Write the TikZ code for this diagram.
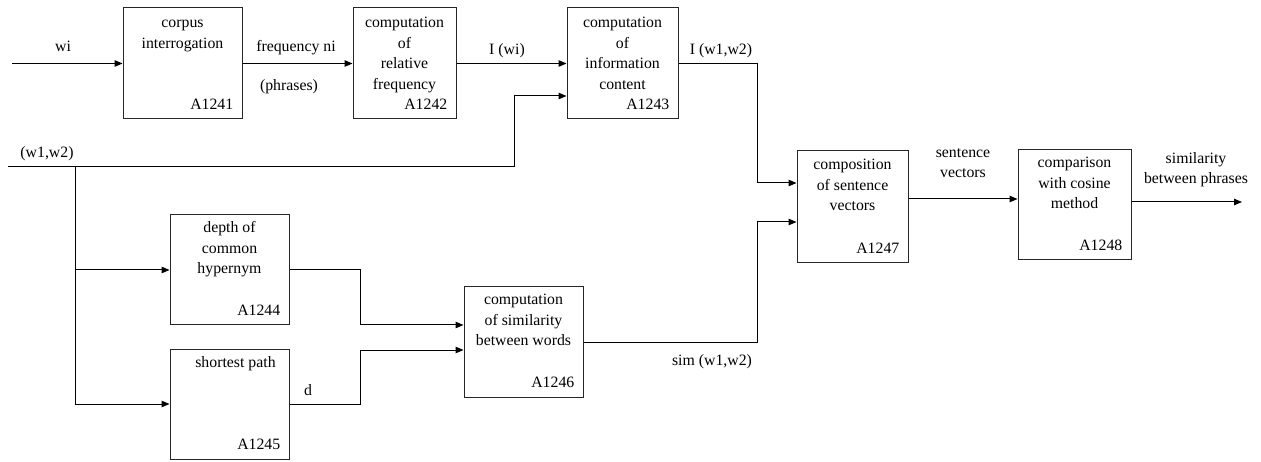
\documentclass[tikz,border=0pt]{standalone}
\usepackage{fontspec}
\setmainfont{Liberation Serif}
\usetikzlibrary{arrows.meta,calc}
\begin{document}
\begin{tikzpicture}[x=1pt,y=-1pt,
  box/.style={draw=black!85, line width=1pt, inner sep=0pt},
  conn/.style={line width=1pt, -{Triangle[length=8pt,width=6.5pt]}},
  txt/.style={font=\fontsize{15.8}{20.5}\selectfont, inner sep=0pt, align=center, anchor=north},
  lbl/.style={font=\fontsize{15.8}{20.5}\selectfont, inner sep=0pt, anchor=base east},
  tag/.style={font=\fontsize{15.8}{20.5}\selectfont, inner sep=0pt, anchor=base}]
\path[use as bounding box, fill=white] (0,0) rectangle (1261,462);

% boxes
\node[box, minimum width=119pt, minimum height=111pt] (a1) at (182.5,63.5) {};
\node[box, minimum width=103pt, minimum height=111pt] (a2) at (404.5,63.5) {};
\node[box, minimum width=111pt, minimum height=111pt] (a3) at (622.5,63.5) {};
\node[box, minimum width=119pt, minimum height=110pt] (a4) at (229.5,270) {};
\node[box, minimum width=119pt, minimum height=110pt] (a5) at (229.5,404) {};
\node[box, minimum width=119pt, minimum height=110pt] (a6) at (523.5,342) {};
\node[box, minimum width=111pt, minimum height=112pt] (a7) at (852.5,207) {};
\node[box, minimum width=113pt, minimum height=110pt] (a8) at (1074.5,205) {};

% box texts
\node[txt] (a1t) at ($(a1.north)+(0,5.6)$) {\strut corpus\\interrogation};
\node[txt] (a2t) at ($(a2.north)+(0,5.6)$) {\strut computation\\of\\relative\\frequency};
\node[txt] (a3t) at ($(a3.north)+(0,5.6)$) {\strut computation\\of\\information\\content};
\node[txt] (a4t) at ($(a4.north)+(0,3.6)$) {\strut depth of\\common\\hypernym};
\node[txt] (a5t) at ($(a5.north)+(6,4.6)$) {\strut shortest path};
\node[txt] (a6t) at ($(a6.north)+(0,3.6)$) {\strut computation\\of similarity\\between words};
\node[txt] (a7t) at ($(a7.north)+(0,4.6)$) {\strut composition\\of sentence\\vectors};
\node[txt] (a8t) at ($(a8.north)+(0,3.6)$) {\strut comparison\\with cosine\\method};

% box tags
\node[lbl] (a1l) at ($(a1.south east)+(-9,-10)$) {A1241};
\node[lbl] (a2l) at ($(a2.south east)+(-9,-10)$) {A1242};
\node[lbl] (a3l) at ($(a3.south east)+(-9,-10)$) {A1243};
\node[lbl] (a4l) at ($(a4.south east)+(-9,-10)$) {A1244};
\node[lbl] (a5l) at ($(a5.south east)+(-9,-10)$) {A1245};
\node[lbl] (a6l) at ($(a6.south east)+(-9,-10)$) {A1246};
\node[lbl] (a7l) at ($(a7.south east)+(-9,-10)$) {A1247};
\node[lbl] (a8l) at ($(a8.south east)+(-9,-10)$) {A1248};

% helper coordinates
\coordinate (win) at (12,64);
\coordinate (win2) at (8,167);
\coordinate (j1) at (514,167);
\coordinate (br) at (75,167);
\coordinate (bus) at (757,0);
\coordinate (mid) at (360,0);
\coordinate (p78) at ($(a7.east)+(0,-8)$);
\coordinate (out) at (1242,202);

% connectors
\draw[conn] (win |- a1.west) -- (a1.west);
\draw[conn] (a1.east) -- (a2.west);
\draw[conn] (a2.east) -- (a3.west);
\draw[conn] (win2) -- (j1) |- ($(a3.west)+(0,32.5)$);
\draw[conn] (br) |- (a5.west);
\draw[conn] (br |- a4.west) -- (a4.west);
\draw[conn] (a3.east) -- (a3.east -| bus) |- ($(a7.west)+(0,-24)$);
\draw[conn] (a6.east) -- (a6.east -| bus) |- ($(a7.west)+(0,15)$);
\draw[conn] (a4.east) -- (a4.east -| mid) |- ($(a6.west)+(0,-17)$);
\draw[conn] (a5.east) -- (a5.east -| mid) |- ($(a6.west)+(0,8)$);
\draw[conn] (p78) -- (p78 -| a8.west);
\draw[conn] (out -| a8.east) -- (out);

% connector labels
\node[tag] (twi) at (63,52) {wi};
\node[tag] (tfreq) at (296,52) {frequency ni};
\node[tag] (tphr) at (289,91) {(phrases)};
\node[tag] (tw12) at (47,158) {(w1,w2)};
\node[tag] (tiwi) at (507,55) {I (wi)};
\node[tag] (tiw12) at (721,55) {I (w1,w2)};
\node[txt] (tsv) at (963,142.6) {\strut sentence\\vectors};
\node[txt] (tsim) at (1196,148.6) {\strut similarity\\between phrases};
\node[tag] (td) at (308,395) {d};
\node[tag] (tsimw) at (712,365) {sim (w1,w2)};
\end{tikzpicture}
\end{document}
